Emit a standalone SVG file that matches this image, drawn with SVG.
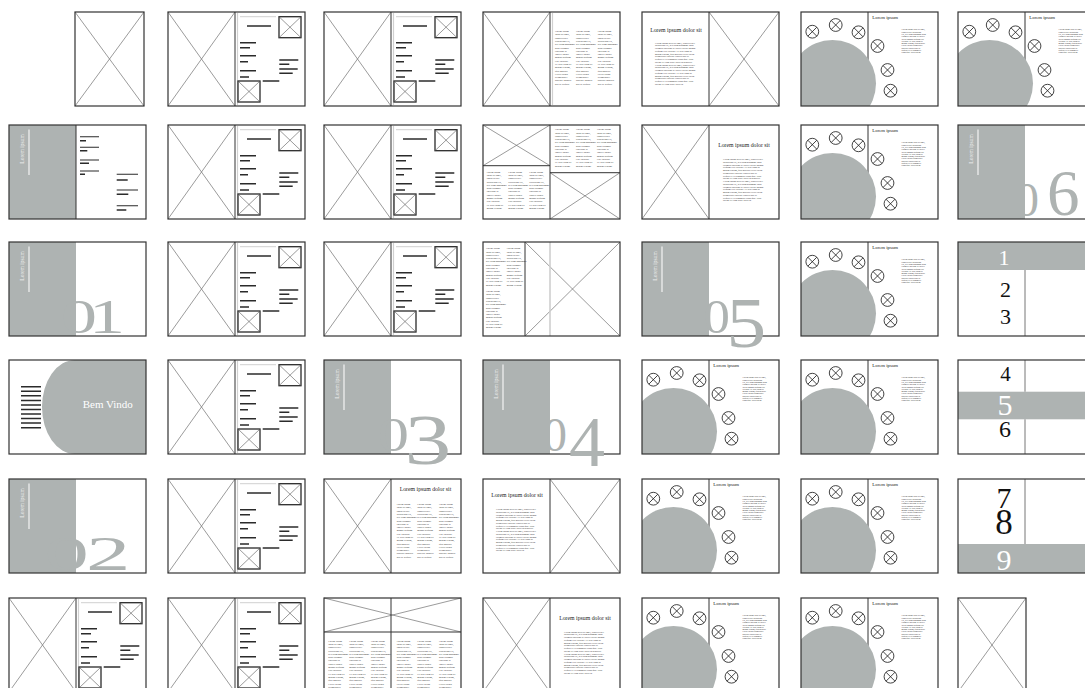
<svg xmlns="http://www.w3.org/2000/svg" width="1085" height="688" viewBox="0 0 1085 688">
<style>
.f{fill:none;stroke:#333;stroke-width:1.2}
.x{fill:none;stroke:#707070;stroke-width:.7}
.g{fill:#aeb3b2}
.bar{fill:none;stroke:#2b2b2b;stroke-width:1.5}
.ln{fill:none;stroke:#2b2b2b;stroke-width:1.1}
.sp{fill:none;stroke:#333;stroke-width:1}
.st{fill:none;stroke:#d0d0d0;stroke-width:1.2}
.t{font-family:"Liberation Serif",serif;font-size:2.55px;fill:#2e2e2e}
.tp{font-family:"Liberation Serif",serif;font-size:2.4px;fill:#2e2e2e}
.tc{font-family:"Liberation Serif",serif;font-size:2.1px;fill:#222}
.h{font-family:"Liberation Serif",serif;font-size:5.8px;fill:#1a1a1a;text-anchor:middle}
.hc{font-family:"Liberation Serif",serif;font-size:4.8px;fill:#1a1a1a}
.lt{font-family:"Liberation Serif",serif;font-size:5.5px;fill:#eef0ef;text-anchor:middle}
.num{font-family:"Liberation Serif",serif;fill:#aeb3b2}
.kn{font-family:"Liberation Serif",serif;text-anchor:middle}
.bv{font-family:"Liberation Serif",serif;font-size:11px;fill:#fff}
</style>
<defs>
<clipPath id="cc"><rect width="137" height="94"/></clipPath>
<g id="col12"><text class="t"><tspan x="0" y="2">Lorem ipsum</tspan><tspan x="0" dy="3.3">dolor sit amet,</tspan><tspan x="0" dy="3.3">consectetuer</tspan><tspan x="0" dy="3.3">adipiscing elit,</tspan><tspan x="0" dy="3.3">sed diam nonummy</tspan><tspan x="0" dy="3.3">nibh euismod</tspan><tspan x="0" dy="3.3">tincidunt ut</tspan><tspan x="0" dy="3.3">laoreet dolore</tspan><tspan x="0" dy="3.3">magna aliquam</tspan><tspan x="0" dy="3.3">erat volutpat.</tspan><tspan x="0" dy="3.3">Ut wisi enim ad</tspan><tspan x="0" dy="3.3">minim veniam.</tspan></text></g>
<g id="col17"><text class="t"><tspan x="0" y="2">Lorem ipsum</tspan><tspan x="0" dy="3.3">dolor sit amet,</tspan><tspan x="0" dy="3.3">consectetuer</tspan><tspan x="0" dy="3.3">adipiscing elit,</tspan><tspan x="0" dy="3.3">sed diam nonummy</tspan><tspan x="0" dy="3.3">nibh euismod</tspan><tspan x="0" dy="3.3">tincidunt ut</tspan><tspan x="0" dy="3.3">laoreet dolore</tspan><tspan x="0" dy="3.3">magna aliquam</tspan><tspan x="0" dy="3.3">erat volutpat.</tspan><tspan x="0" dy="3.3">Ut wisi enim ad</tspan><tspan x="0" dy="3.3">minim veniam,</tspan><tspan x="0" dy="3.3">quis nostrud</tspan><tspan x="0" dy="3.3">exerci tation</tspan><tspan x="0" dy="3.3">ullamcorper</tspan><tspan x="0" dy="3.3">suscipit lobortis</tspan><tspan x="0" dy="3.3">nisl ut aliquip.</tspan></text></g>
<g id="para"><text class="tp"><tspan x="0" y="2">Lorem ipsum dolor sit amet, consectetuer</tspan><tspan x="0" dy="2.75">adipiscing elit, sed diam nonummy nibh</tspan><tspan x="0" dy="2.75">euismod tincidunt ut laoreet dolore magna</tspan><tspan x="0" dy="2.75">aliquam erat volutpat. Ut wisi enim ad</tspan><tspan x="0" dy="2.75">minim veniam, quis nostrud exerci tation</tspan><tspan x="0" dy="2.75">ullamcorper suscipit lobortis nisl ut</tspan><tspan x="0" dy="2.75">aliquip ex ea commodo consequat. Duis</tspan><tspan x="0" dy="2.75">autem vel eum iriure dolor in hendrerit</tspan><tspan x="0" dy="2.75">Lorem ipsum dolor sit amet, consectetuer</tspan><tspan x="0" dy="2.75">adipiscing elit, sed diam nonummy nibh</tspan><tspan x="0" dy="2.75">euismod tincidunt ut laoreet dolore magna</tspan><tspan x="0" dy="2.75">aliquam erat volutpat. Ut wisi enim ad</tspan><tspan x="0" dy="2.75">minim veniam, quis nostrud exerci tation</tspan><tspan x="0" dy="2.75">ullamcorper suscipit lobortis nisl ut</tspan><tspan x="0" dy="2.75">aliquip ex ea commodo consequat. Duis</tspan><tspan x="0" dy="2.75">autem vel eum iriure dolor in.</tspan></text></g>
<g id="cpara"><text class="tc"><tspan x="0" y="1.8">Lorem ipsum dolor sit amet,</tspan><tspan x="0" dy="2.3">consectetuer adipiscing</tspan><tspan x="0" dy="2.3">elit, sed diam nonummy nibh</tspan><tspan x="0" dy="2.3">euismod tincidunt ut laoreet</tspan><tspan x="0" dy="2.3">dolore magna aliquam erat</tspan><tspan x="0" dy="2.3">volutpat. Ut wisi enim ad</tspan><tspan x="0" dy="2.3">minim veniam, quis nostrud</tspan><tspan x="0" dy="2.3">exerci tation ullamcorper</tspan><tspan x="0" dy="2.3">suscipit lobortis nisl ut</tspan><tspan x="0" dy="2.3">aliquip ex ea commodo</tspan><tspan x="0" dy="2.3">consequat. Duis autem.</tspan></text></g>
<g id="ox"><circle r="6.4" fill="none" stroke="#222" stroke-width=".85"/><path d="M-4.5 -4.5L4.5 4.5M4.5 -4.5L-4.5 4.5" stroke="#222" stroke-width=".85"/></g>
<g id="xl"><path class="x" d="M0 0L67 94M67 0L0 94"/></g>
<g id="xr"><path class="x" d="M67 0L137 94M137 0L67 94"/></g>
<g id="ib"><rect width="22" height="21" fill="#fff" stroke="#2a2a2a" stroke-width="1.3"/><path d="M0 0L22 21M22 0L0 21" stroke="#555" stroke-width=".6"/></g>
<g id="tplA">
<use href="#xl"/>
<path class="st" d="M69.5 1V93"/>
<path d="M72 4.7H108" stroke="#c4c4c4" stroke-width=".8"/>
<path class="bar" stroke-width="1.9" d="M79 14H103"/>
<path class="bar" d="M72 30.7H88M72 35.7H82M72 43.7H88M72 49.7H80M72 58.7H88M72 65H81"/>
<path class="bar" stroke-width="1.3" d="M111.3 48H130.3M111.3 52.3H121.3M111.3 57H129.7M111.3 61.3H124.7"/>
<path class="bar" stroke-width="1" d="M94.7 69H111.3"/>
<use href="#ib" x="111" y="4.7"/>
<use href="#ib" x="70" y="69"/>
<path class="sp" d="M67 0V94"/>
<rect class="f" width="137" height="94"/>
</g>
<g id="tplC">
<path class="sp" d="M67 0V94"/>
<circle class="g" cx="31.5" cy="71.5" r="43.5" clip-path="url(#cc)"/>
<use href="#ox" x="11.3" y="19.7"/>
<use href="#ox" x="34.7" y="13"/>
<use href="#ox" x="57.5" y="20.3"/>
<use href="#ox" x="76.5" y="34"/>
<use href="#ox" x="86.5" y="58"/>
<use href="#ox" x="89.5" y="78.7"/>
<text class="hc" x="71.3" y="6.6">Lorem ipsum</text>
<use href="#cpara" x="100.5" y="16.5"/>
<rect class="f" width="137" height="94"/>
</g>
<g id="ttl">
<rect class="g" width="67" height="94"/>
<path d="M20 4.5V50" stroke="#f4f4f4" stroke-width="1.2"/>
<text class="lt" transform="translate(15 24) rotate(-90)">Lorem ipsum</text>
</g>
</defs>
<rect width="1085" height="688" fill="#fff"/>

<!-- Row 1 -->
<g id="spread-r1c1" transform="translate(9 12)"><path class="x" d="M66 0L135 94M135 0L66 94"/><rect class="f" x="66" width="69" height="94"/></g>
<g id="spread-r1c2" transform="translate(168 12)"><use href="#tplA"/></g>
<g id="spread-r1c3" transform="translate(324 12)"><use href="#tplA"/></g>
<g id="spread-r1c4" transform="translate(483 12)"><use href="#xl"/><path class="st" d="M69.5 1V93"/><use href="#col17" x="72" y="18"/><use href="#col17" x="93" y="18"/><use href="#col17" x="114.7" y="18"/><path class="sp" d="M67 0V94"/><rect class="f" width="137" height="94"/></g>
<g id="spread-r1c5" transform="translate(642 12)"><use href="#xr"/><text class="h" x="34" y="19.7">Lorem ipsum dolor sit</text><use href="#para" x="13" y="29.7"/><path class="sp" d="M67 0V94"/><rect class="f" width="137" height="94"/></g>
<g id="spread-r1c6" transform="translate(801 12)"><use href="#tplC"/></g>
<g id="spread-r1c7" transform="translate(958 12)"><use href="#tplC"/></g>

<!-- Row 2 -->
<g id="spread-r2c1" transform="translate(9 125)"><use href="#ttl"/>
<path class="ln" d="M71 11.7H90M71 22.3H90M71 35H90M71 46H90M107.7 49.3H129M107.7 65H129M107.7 80.7H129"/>
<path class="bar" stroke-width="1.4" d="M71 15.7H77M71 25.7H78.3M71 38.3H80M71 49.3H76M107.7 55H118.7M107.7 69.3H119.3M107.7 85H117.3"/>
<path class="sp" stroke="#777" d="M67 0V94"/><rect class="f" width="137" height="94"/></g>
<g id="spread-r2c2" transform="translate(168 125)"><use href="#tplA"/></g>
<g id="spread-r2c3" transform="translate(324 125)"><use href="#tplA"/></g>
<g id="spread-r2c4" transform="translate(483 125)"><path class="x" d="M0 0L67 40.7M67 0L0 40.7M67 47.7L137 94M137 47.7L67 94"/><use href="#col12" x="72" y="3.3"/><use href="#col12" x="93" y="3.3"/><use href="#col12" x="114" y="3.3"/><use href="#col12" x="3.7" y="45.7"/><use href="#col12" x="25.3" y="45.7"/><use href="#col12" x="46.3" y="45.7"/><path class="sp" d="M0 40.7H67M67 47.7H137M67 0V94"/><rect class="f" width="137" height="94"/></g>
<g id="spread-r2c5" transform="translate(642 125)"><use href="#xl"/><text class="h" x="102" y="21.7">Lorem ipsum dolor sit</text><use href="#para" x="81" y="33"/><path class="sp" d="M67 0V94"/><rect class="f" width="137" height="94"/></g>
<g id="spread-r2c6" transform="translate(801 125)"><use href="#tplC"/></g>
<g id="spread-r2c7" transform="translate(958 125)"><use href="#ttl"/><rect class="f" width="137" height="94"/><text class="num"><tspan x="57" y="91" font-size="48">0</tspan><tspan x="89" y="90" font-size="65">6</tspan></text></g>

<!-- Row 3 -->
<g id="spread-r3c1" transform="translate(9 242)"><use href="#ttl"/><rect class="f" width="137" height="94"/><text class="num" font-size="48" transform="scale(1.5 1)"><tspan x="34.7" y="91">0</tspan><tspan x="53.3" y="91">1</tspan></text></g>
<g id="spread-r3c2" transform="translate(168 242)"><use href="#tplA"/></g>
<g id="spread-r3c3" transform="translate(324 242)"><use href="#tplA"/></g>
<g id="spread-r3c4" transform="translate(483 242)"><path class="x" d="M42 0L137 94M137 0L42 94"/><path d="M67 0V94" stroke="#cfcfcf" stroke-width="1.6"/><use href="#col12" x="3" y="5.3"/><use href="#col12" x="3" y="48"/><use href="#col12" x="23.7" y="5.3"/><path class="sp" d="M42 0V94"/><rect class="f" width="137" height="94"/></g>
<g id="spread-r3c5" transform="translate(642 242)"><use href="#ttl"/><rect class="f" width="137" height="94"/><text class="num" transform="scale(1.1 1)"><tspan x="56" y="91" font-size="48">0</tspan><tspan x="76.8" y="104.7" font-size="72">5</tspan></text></g>
<g id="spread-r3c6" transform="translate(801 242)"><use href="#tplC"/></g>
<g id="spread-r3c7" transform="translate(958 242)"><rect class="g" width="137" height="28"/><path d="M67 28V94" stroke="#777" stroke-width="1"/><text class="kn" font-size="22"><tspan x="46" y="23" fill="#fff">1</tspan><tspan x="47.5" y="54.7" fill="#111">2</tspan><tspan x="47.5" y="82.3" fill="#111">3</tspan></text><rect class="f" width="137" height="94"/></g>

<!-- Row 4 -->
<g id="spread-r4c1" transform="translate(9 360)"><path class="g" d="M66 0A33 47 0 0 0 66 94H137V0Z"/><path class="bar" stroke-width="1.3" d="M12 26.7H32M12 31.3H32M12 35.8H32M12 40.4H32M12 44.9H32M12 49.5H32M12 54H32M12 58.6H32M12 63.1H32M12 67.7H32"/><text class="bv" x="73.7" y="48.3">Bem Vindo</text><rect class="f" width="137" height="94"/></g>
<g id="spread-r4c2" transform="translate(168 360)"><use href="#tplA"/></g>
<g id="spread-r4c3" transform="translate(324 360)"><use href="#ttl"/><rect class="f" width="137" height="94"/><text class="num" transform="scale(1.3 1)"><tspan x="41.4" y="91" font-size="48">0</tspan><tspan x="61.9" y="104" font-size="72">3</tspan></text></g>
<g id="spread-r4c4" transform="translate(483 360)"><use href="#ttl"/><rect class="f" width="137" height="94"/><text class="num"><tspan x="60" y="91" font-size="48">0</tspan><tspan x="86" y="106" font-size="72">4</tspan></text></g>
<g id="spread-r4c5" transform="translate(642 360)"><use href="#tplC"/></g>
<g id="spread-r4c6" transform="translate(801 360)"><use href="#tplC"/></g>
<g id="spread-r4c7" transform="translate(958 360)"><rect class="g" y="31.7" width="137" height="27.6"/><path d="M67 0V31.7M67 59.3V94" stroke="#777" stroke-width="1"/><text class="kn"><tspan x="47.5" y="20.7" font-size="21" fill="#111">4</tspan><tspan x="47" y="55" font-size="30" fill="#fff">5</tspan><tspan x="47" y="76.7" font-size="24" fill="#111">6</tspan></text><rect class="f" width="137" height="94"/></g>

<!-- Row 5 -->
<g id="spread-r5c1" transform="translate(9 479)"><use href="#ttl"/><rect class="f" width="137" height="94"/><text class="num" font-size="48" transform="scale(1.85 1)"><tspan x="19.2" y="91">0</tspan><tspan x="41.6" y="91">2</tspan></text></g>
<g id="spread-r5c2" transform="translate(168 479)"><use href="#tplA"/></g>
<g id="spread-r5c3" transform="translate(324 479)"><use href="#xl"/><text class="h" x="101.5" y="12.3">Lorem ipsum dolor sit</text><use href="#col17" x="72.7" y="24"/><use href="#col17" x="93.3" y="24"/><use href="#col17" x="115" y="24"/><path class="sp" d="M67 0V94"/><rect class="f" width="137" height="94"/></g>
<g id="spread-r5c4" transform="translate(483 479)"><use href="#xr"/><text class="h" x="34" y="18.3">Lorem ipsum dolor sit</text><use href="#para" x="13" y="29"/><path class="sp" d="M67 0V94"/><rect class="f" width="137" height="94"/></g>
<g id="spread-r5c5" transform="translate(642 479)"><use href="#tplC"/></g>
<g id="spread-r5c6" transform="translate(801 479)"><use href="#tplC"/></g>
<g id="spread-r5c7" transform="translate(958 479)"><rect class="g" y="65" width="137" height="29"/><path d="M67 0V65" stroke="#777" stroke-width="1"/><text class="kn"><tspan x="46" y="29" font-size="30" fill="#111">7</tspan><tspan x="46" y="55" font-size="35" fill="#111">8</tspan><tspan x="46" y="91" font-size="30" fill="#fff">9</tspan></text><rect class="f" width="137" height="94"/></g>

<!-- Row 6 -->
<g id="spread-r6c1" transform="translate(9 598)"><use href="#tplA"/></g>
<g id="spread-r6c2" transform="translate(168 598)"><use href="#tplA"/></g>
<g id="spread-r6c3" transform="translate(324 598)"><path class="x" d="M0 0L137 34M137 0L0 34"/><use href="#col17" x="4.3" y="41.7"/><use href="#col17" x="25.3" y="41.7"/><use href="#col17" x="47" y="41.7"/><use href="#col17" x="72.7" y="41.7"/><use href="#col17" x="93.3" y="41.7"/><use href="#col17" x="115" y="41.7"/><path class="sp" d="M0 34H137M67 0V94"/><rect class="f" width="137" height="94"/></g>
<g id="spread-r6c4" transform="translate(483 598)"><use href="#xl"/><text class="h" x="102" y="22.3">Lorem ipsum dolor sit</text><use href="#para" x="81" y="32.7"/><path class="sp" d="M67 0V94"/><rect class="f" width="137" height="94"/></g>
<g id="spread-r6c5" transform="translate(642 598)"><use href="#tplC"/></g>
<g id="spread-r6c6" transform="translate(801 598)"><use href="#tplC"/></g>
<g id="spread-r6c7" transform="translate(958 598)"><path class="x" d="M0 0L68 94M68 0L0 94"/><rect class="f" width="68" height="94"/></g>
</svg>
